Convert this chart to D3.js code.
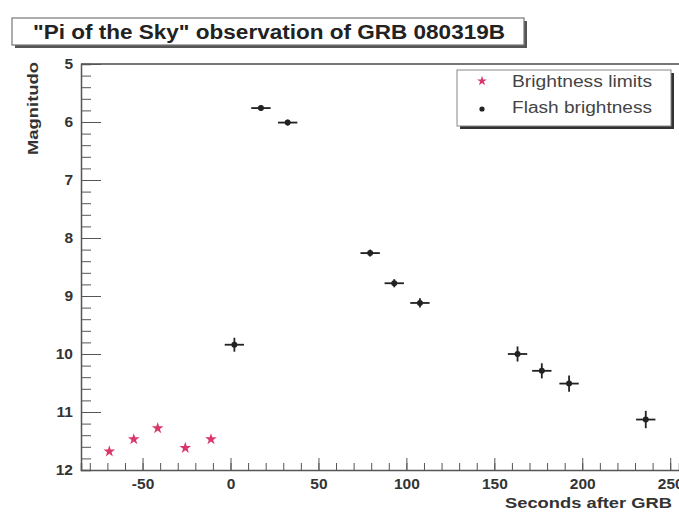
<!DOCTYPE html>
<html><head><meta charset="utf-8">
<script src="https://cdn.jsdelivr.net/npm/d3@7"></script>
<style>body{margin:0;background:#fff;}svg{display:block;font-family:"Liberation Sans",Arial,sans-serif;}</style>
</head><body><svg id="c" width="679" height="512"></svg>
<script>
const titleText = "\"Pi of the Sky\" observation of GRB 080319B";
const xLabel = "Seconds after GRB";
const yLabel = "Magnitudo";
const seriesNames = ["Brightness limits", "Flash brightness"];
// Brightness limits (upper limits before the flash)
const limitT = [-68.9, -55.0, -41.4, -25.7, -11.1];
const limitMag = [11.68, 11.47, 11.28, 11.62, 11.47];
// Flash brightness
const flashT = [2.2, 17.3, 32.5, 79.4, 93.1, 107.7, 163.2, 177.0, 192.5, 236.1];
const flashMag = [9.84, 5.76, 6.01, 8.26, 8.78, 9.12, 10.0, 10.29, 10.51, 11.13];
const flashTErr = [5.5, 5.5, 5.5, 5.5, 5.5, 5.5, 5.5, 5.5, 5.5, 5.5];
const flashMagErr = [0.12, 0.05, 0.05, 0.06, 0.07, 0.08, 0.13, 0.13, 0.14, 0.15];
const xTicks = [-50, 0, 50, 100, 150, 200, 250];
const yTicks = [5, 6, 7, 8, 9, 10, 11, 12];

const svg = d3.select("#c");
const x = d3.scaleLinear().domain([-85, 255]).range([81, 679]);
const y = d3.scaleLinear().domain([5, 12]).range([64, 470]);
const axisCol = "#555";
const fmt = d => String(d);

// frame
svg.append("line").attr("x1",81).attr("x2",679).attr("y1",y(5)).attr("y2",y(5)).attr("stroke","#777").attr("stroke-width",2);

// Y axis: ticks inside
const yMinor = d3.range(50, 121, 2).map(v => v/10);
svg.append("g").attr("transform","translate(81,0)")
  .call(d3.axisRight(y).tickValues(yMinor).tickSize(10).tickFormat(""))
  .call(g => g.selectAll("line").attr("stroke",axisCol))
  .call(g => g.select(".domain").attr("stroke",axisCol).attr("stroke-width",1.5));
svg.append("g").attr("transform","translate(81,0)")
  .call(d3.axisRight(y).tickValues(yTicks).tickSize(20).tickFormat(""))
  .call(g => g.selectAll("line").attr("stroke",axisCol))
  .call(g => g.select(".domain").remove());
svg.append("g").attr("transform","translate(81,0)")
  .call(d3.axisLeft(y).tickValues(yTicks).tickSize(0).tickPadding(8).tickFormat(fmt))
  .call(g => g.select(".domain").remove())
  .call(g => g.selectAll("text").attr("font-size",15.5).attr("font-weight","bold").attr("fill","#333").attr("font-family","Liberation Sans, Arial"));

// X axis: ticks inside (upwards)
const xMinor = d3.range(-80, 251, 10);
svg.append("g").attr("transform","translate(0,470)")
  .call(d3.axisTop(x).tickValues(xMinor).tickSize(7).tickFormat(""))
  .call(g => g.selectAll("line").attr("stroke",axisCol))
  .call(g => g.select(".domain").attr("stroke",axisCol).attr("stroke-width",1.5));
svg.append("g").attr("transform","translate(0,470)")
  .call(d3.axisTop(x).tickValues(xTicks).tickSize(12).tickFormat(""))
  .call(g => g.selectAll("line").attr("stroke",axisCol))
  .call(g => g.select(".domain").remove());
svg.append("g").attr("transform","translate(0,470)")
  .call(d3.axisBottom(x).tickValues(xTicks).tickSize(0).tickPadding(8).tickFormat(fmt))
  .call(g => g.select(".domain").remove())
  .call(g => g.selectAll("text").attr("font-size",15.5).attr("font-weight","bold").attr("fill","#333").attr("font-family","Liberation Sans, Arial"));

// axis titles
svg.append("text").attr("transform","translate(38,62) rotate(-90)").attr("text-anchor","end")
  .attr("font-size",14).attr("font-weight","bold").attr("fill","#333")
  .attr("textLength",93).attr("lengthAdjust","spacingAndGlyphs").text(yLabel);
svg.append("text").attr("x",672).attr("y",508).attr("text-anchor","end")
  .attr("font-size",15).attr("font-weight","bold").attr("fill","#333")
  .attr("textLength",167).attr("lengthAdjust","spacingAndGlyphs").text(xLabel);

// flash points with error bars
const flash = flashT.map((t,i)=>({t, m:flashMag[i], et:flashTErr[i], em:flashMagErr[i]}));
const fg = svg.append("g").attr("stroke","#222").attr("stroke-width",1.8);
flash.forEach(d=>{
  fg.append("line").attr("x1",x(d.t-d.et)).attr("x2",x(d.t+d.et)).attr("y1",y(d.m)).attr("y2",y(d.m));
  fg.append("line").attr("x1",x(d.t)).attr("x2",x(d.t)).attr("y1",y(d.m-d.em)).attr("y2",y(d.m+d.em));
});
svg.append("g").selectAll("circle").data(flash).join("circle")
  .attr("cx",d=>x(d.t)).attr("cy",d=>y(d.m)).attr("r",3).attr("fill","#222");

// limits (red markers)
const limits = limitT.map((t,i)=>({t, m:limitMag[i]}));
const star = d3.symbol().type(d3.symbolStar).size(42);
svg.append("g").selectAll("path").data(limits).join("path")
  .attr("transform",d=>`translate(${x(d.t)},${y(d.m)})`).attr("d",star).attr("fill","#d9376a");

// legend
const lg = svg.append("g");
lg.append("rect").attr("x",460).attr("y",73).attr("width",214).attr("height",56).attr("fill","#333");
lg.append("rect").attr("x",457).attr("y",70).attr("width",214).attr("height",56).attr("fill","#fff").attr("stroke","#888").attr("stroke-width",1);
lg.append("path").attr("transform","translate(482,81)").attr("d",d3.symbol().type(d3.symbolStar).size(30)).attr("fill","#d9376a");
lg.append("circle").attr("cx",482).attr("cy",109).attr("r",2.6).attr("fill","#222");
lg.selectAll("text.l").data(seriesNames).join("text").attr("class","l")
  .attr("x",512).attr("y",(d,i)=>87+i*26).attr("font-size",16).attr("fill","#444")
  .attr("textLength",140).attr("lengthAdjust","spacingAndGlyphs").text(d=>d);

// title box
svg.append("rect").attr("x",15).attr("y",21).attr("width",512).attr("height",27).attr("fill","#555");
svg.append("rect").attr("x",12).attr("y",18).attr("width",512).attr("height",27).attr("fill","#fff").attr("stroke","#777").attr("stroke-width",1.2);
svg.append("text").attr("x",269).attr("y",39).attr("text-anchor","middle").attr("font-size",19.5)
  .attr("font-weight","bold").attr("fill","#222")
  .attr("textLength",472).attr("lengthAdjust","spacingAndGlyphs").text(titleText);
</script></body></html>
